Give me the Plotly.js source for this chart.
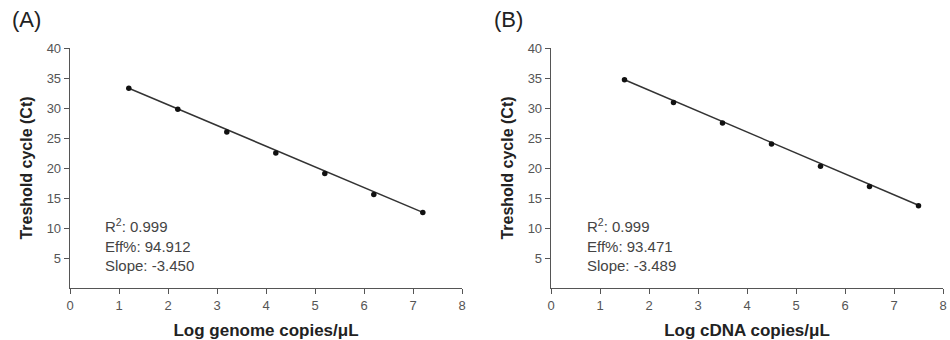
<!DOCTYPE html>
<html>
<head>
<meta charset="utf-8">
<script src="https://cdn.plot.ly/plotly-3.0.1.min.js"></script>
<style>html,body{margin:0;padding:0;background:#fff;}#chart{width:950px;height:340px;}</style>
</head>
<body>
<div id="chart"></div>
<script>
// Panel A: genome standard curve
const xA = [1.2, 2.2, 3.2, 4.2, 5.2, 6.2, 7.2];
const yA = [33.3, 29.8, 26.0, 22.5, 19.1, 15.6, 12.6];
const fitXA = [1.2, 7.2];
const fitYA = [33.3, 12.6];
const statsA = ["R<sup>2</sup>: 0.999", "Eff%: 94.912", "Slope: -3.450"];

// Panel B: cDNA standard curve
const xB = [1.5, 2.5, 3.5, 4.5, 5.5, 6.5, 7.5];
const yB = [34.7, 30.9, 27.5, 24.0, 20.3, 16.9, 13.7];
const fitXB = [1.5, 7.5];
const fitYB = [34.7, 13.8];
const statsB = ["R<sup>2</sup>: 0.999", "Eff%: 93.471", "Slope: -3.489"];

const xTicks = [0, 1, 2, 3, 4, 5, 6, 7, 8];
const yTicks = [5, 10, 15, 20, 25, 30, 35, 40];
const xTitleA = "Log genome copies/μL";
const xTitleB = "Log cDNA copies/μL";
const yTitle = "Treshold cycle (Ct)";
const panelLabels = ["(A)", "(B)"];

const lineCol = "#333";
const traces = [
  {x: fitXA, y: fitYA, mode: "lines", line: {color: lineCol, width: 1.5}, xaxis: "x", yaxis: "y", hoverinfo: "skip"},
  {x: xA, y: yA, mode: "markers", marker: {color: "#111", size: 5.5}, xaxis: "x", yaxis: "y"},
  {x: fitXB, y: fitYB, mode: "lines", line: {color: lineCol, width: 1.5}, xaxis: "x2", yaxis: "y2", hoverinfo: "skip"},
  {x: xB, y: yB, mode: "markers", marker: {color: "#111", size: 5.5}, xaxis: "x2", yaxis: "y2"}
];

function xax(dom, title, anchor) {
  return {
    domain: dom, anchor: anchor, range: [0, 8], tickvals: xTicks, ticks: "outside", ticklen: 5,
    tickcolor: "#555", showline: true, linecolor: "#555", linewidth: 1.3, showgrid: false, zeroline: false,
    tickfont: {family: "Liberation Sans, Arial", size: 13, color: "#555"},
    title: {text: title, font: {family: "Liberation Sans, Arial", size: 17, color: "#222", weight: "bold"}, standoff: 12},
    automargin: false
  };
}
function yax(dom, anchor) {
  return {
    domain: dom, anchor: anchor, range: [0, 40], tickvals: yTicks, ticks: "outside", ticklen: 5,
    tickcolor: "#555", showline: true, linecolor: "#555", linewidth: 1.3, showgrid: false, zeroline: false,
    tickfont: {family: "Liberation Sans, Arial", size: 13, color: "#555"},
    title: {text: yTitle, font: {family: "Liberation Sans, Arial", size: 16, color: "#222", weight: "bold"}, standoff: 10},
    automargin: false
  };
}

const yDom = [1 - 288/340, 1 - 48/340];
const layout = {
  width: 950, height: 340,
  margin: {l: 0, r: 0, t: 0, b: 0},
  paper_bgcolor: "#fff", plot_bgcolor: "#fff",
  showlegend: false,
  xaxis: xax([70/950, 462/950], xTitleA, "y"),
  yaxis: yax(yDom, "x"),
  xaxis2: xax([551/950, 943/950], xTitleB, "y2"),
  yaxis2: yax(yDom, "x2"),
  annotations: [
    {xref: "x", yref: "y", x: 0.67, y: 12.4, xanchor: "left", yanchor: "top", align: "left", showarrow: false,
     text: statsA.join("<br>"), font: {family: "Liberation Sans, Arial", size: 15, color: "#444"}},
    {xref: "x2", yref: "y2", x: 0.69, y: 12.4, xanchor: "left", yanchor: "top", align: "left", showarrow: false,
     text: statsB.join("<br>"), font: {family: "Liberation Sans, Arial", size: 15, color: "#444"}},
    {xref: "paper", yref: "paper", x: 10/950, y: 1 - 19/340, xanchor: "left", yanchor: "middle", showarrow: false,
     text: panelLabels[0], font: {family: "Liberation Sans, Arial", size: 22, color: "#222"}},
    {xref: "paper", yref: "paper", x: 492/950, y: 1 - 19/340, xanchor: "left", yanchor: "middle", showarrow: false,
     text: panelLabels[1], font: {family: "Liberation Sans, Arial", size: 22, color: "#222"}}
  ]
};

Plotly.newPlot("chart", traces, layout, {displayModeBar: false, staticPlot: true});
</script>
</body>
</html>
